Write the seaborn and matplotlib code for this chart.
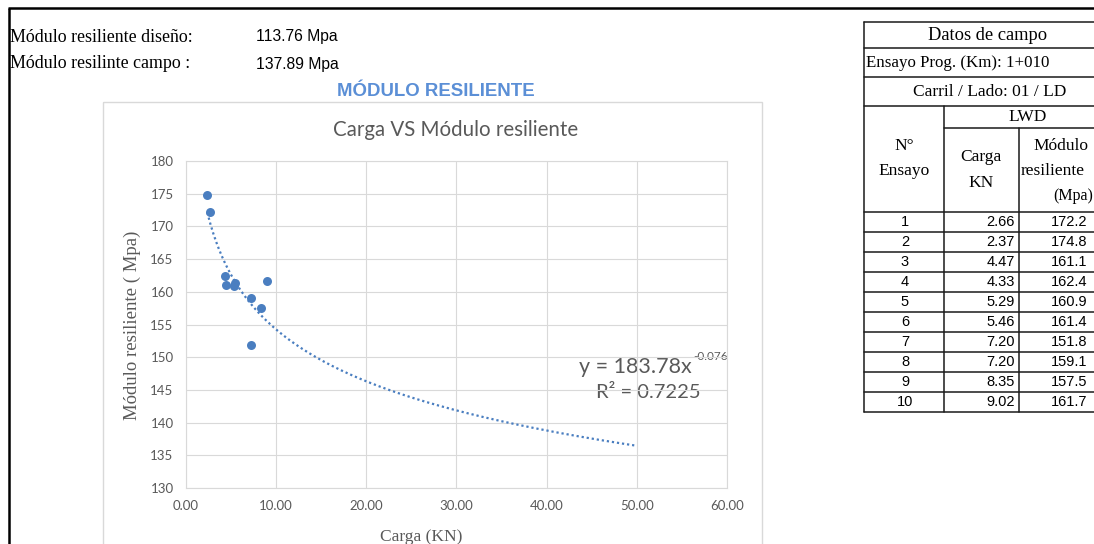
import numpy as np
import pandas as pd
import seaborn as sns
import matplotlib
matplotlib.use("Agg")
import matplotlib.pyplot as plt
from matplotlib.patches import Rectangle

# ---------------- data ----------------
ensayo = [1, 2, 3, 4, 5, 6, 7, 8, 9, 10]
carga = [2.66, 2.37, 4.47, 4.33, 5.29, 5.46, 7.20, 7.20, 8.35, 9.02]
modulo = [172.2, 174.8, 161.1, 162.4, 160.9, 161.4, 151.8, 159.1, 157.5, 161.7]
x_ticks = [0, 10, 20, 30, 40, 50, 60]
y_ticks = [130, 135, 140, 145, 150, 155, 160, 165, 170, 175, 180]
modulo_diseno = "113.76 Mpa"
modulo_campo = "137.89 Mpa"
trend_end = 50
eq_main = "y = 183.78x"
eq_exp = "-0.076"
r2_text = "R² = 0.7225"

sns.set_theme(style="white")
plt.rcParams["font.family"] = ["Lato", "DejaVu Sans"]

W, H = 1094, 544
fig = plt.figure(figsize=(W / 100, H / 100), dpi=100)
fig.patch.set_facecolor("white")

ov = fig.add_axes([0, 0, 1, 1])
ov.set_xlim(0, W)
ov.set_ylim(H, 0)
ov.axis("off")

SERIF = "Liberation Serif"
SANS = "Liberation Sans"
GREY = "#595959"
BLUE = "#4A7EC0"

# outer frame
ov.plot([9, 9], [8, H + 5], color="black", lw=1.8, solid_capstyle="butt")
ov.plot([8, W + 5], [8, 8], color="black", lw=1.8, solid_capstyle="butt")

# header info
ov.text(10, 37, "Módulo resiliente diseño:", family=SERIF, fontsize=12.9, va="center", color="black")
ov.text(10, 64, "Módulo resilinte campo :", family=SERIF, fontsize=12.9, va="center", color="black")
ov.text(256, 37, modulo_diseno, family=SANS, fontsize=11.3, va="center", color="black")
ov.text(256, 64, modulo_campo, family=SANS, fontsize=11.3, va="center", color="black")
ov.text(436, 91, "MÓDULO RESILIENTE", family=SANS, fontsize=13.4, fontweight="bold",
        ha="center", va="center", color="#5B8FD6")

# chart area border
ov.add_patch(Rectangle((103, 102), 659, 470, fill=False, edgecolor="#D9D9D9", lw=1))

ov.text(456, 130, "Carga VS Módulo resiliente", fontsize=14.8, ha="center", va="center", color=GREY)
ov.text(132, 325, "Módulo resiliente ( Mpa)", family=SERIF, fontsize=13.5, rotation=90,
        ha="center", va="center", color=GREY)
ov.text(421, 529, "Carga (KN)", family=SERIF, fontsize=12.5, ha="center", va="top", color=GREY)
ov.text(692, 367, eq_main, fontsize=15.5, ha="right", va="center", color=GREY)
ov.text(693, 357, eq_exp, fontsize=8.5, ha="left", va="center", color=GREY)
ov.text(648, 393, r2_text, fontsize=14.5, ha="center", va="center", color=GREY)

# ---------------- chart ----------------
ax = fig.add_axes([186 / W, 1 - 488 / H, 541 / W, 327 / H])
ax.set_facecolor("none")

# power trend line fitted from data
b, loga = np.polyfit(np.log(carga), np.log(modulo), 1)
xs = np.linspace(min(carga), trend_end, 300)
ys = np.exp(loga) * xs ** b
sns.lineplot(x=xs, y=ys, ax=ax, color=BLUE, lw=1.6, linestyle=(0, (1, 1.3)), zorder=2)

df = pd.DataFrame({"Carga": carga, "Modulo": modulo})
sns.scatterplot(data=df, x="Carga", y="Modulo", ax=ax, color=BLUE, s=42, linewidth=0, zorder=3)

ax.set_xlim(0, 60)
ax.set_ylim(130, 180)
ax.set_xticks(x_ticks)
ax.set_xticklabels([f"{v:.2f}" for v in x_ticks])
ax.set_yticks(y_ticks)
ax.set_yticklabels([str(v) for v in y_ticks])
ax.tick_params(axis="both", length=0, labelsize=9.5, labelcolor=GREY)
ax.tick_params(axis="y", pad=9)
ax.tick_params(axis="x", pad=9)
ax.grid(True, color="#D9D9D9", lw=0.8)
for s in ax.spines.values():
    s.set_visible(True)
    s.set_color("#D9D9D9")
    s.set_linewidth(0.8)
ax.set_xlabel("")
ax.set_ylabel("")

# ---------------- table ----------------
LW = 1.1
TC = "#1a1a1a"
xl, xc1, xc2, xr = 864, 944, 1019, 1110
ov.plot([xl, xl], [22, 412], color=TC, lw=LW)
for y in [22, 48, 77, 106, 212]:
    ov.plot([xl, xr], [y, y], color=TC, lw=LW)
ov.plot([xc1, xr], [128, 128], color=TC, lw=LW)
row_h = 20
for i in range(1, len(ensayo) + 1):
    y = 212 + row_h * i
    ov.plot([xl, xr], [y, y], color=TC, lw=LW)
ov.plot([xc1, xc1], [106, 412], color=TC, lw=LW)
ov.plot([xc2, xc2], [128, 412], color=TC, lw=LW)

fs_t = 12.5
ov.text(988, 35, "Datos de campo", family=SERIF, fontsize=13.3, ha="center", va="center", color="black")
ov.text(866, 63, "Ensayo Prog. (Km): 1+010", family=SERIF, fontsize=12.2, ha="left", va="center", color="black")
ov.text(990, 92, "Carril / Lado: 01 / LD", family=SERIF, fontsize=fs_t, ha="center", va="center", color="black")
ov.text(1028, 117, "LWD", family=SERIF, fontsize=fs_t, ha="center", va="center", color="black")
ov.text(904, 146, "N°", family=SERIF, fontsize=fs_t, ha="center", va="center", color="black")
ov.text(904, 171, "Ensayo", family=SERIF, fontsize=fs_t, ha="center", va="center", color="black")
ov.text(981, 157, "Carga", family=SERIF, fontsize=fs_t, ha="center", va="center", color="black")
ov.text(981, 183, "KN", family=SERIF, fontsize=fs_t, ha="center", va="center", color="black")
ov.text(1033, 146, "Módulo", family=SERIF, fontsize=fs_t, ha="left", va="center", color="black")
ov.text(1021, 171, "resiliente", family=SERIF, fontsize=fs_t, ha="left", va="center", color="black")
ov.text(1053, 196, "(Mpa)", family=SERIF, fontsize=11.5, ha="left", va="center", color="black")

for i, (n, c, m) in enumerate(zip(ensayo, carga, modulo)):
    yc = 212 + row_h * i + row_h / 2 + 0.5
    ov.text(905, yc, str(n), family=SANS, fontsize=10.5, ha="center", va="center", color="black")
    ov.text(1015, yc, f"{c:.2f}", family=SANS, fontsize=10.5, ha="right", va="center", color="black")
    ov.text(1087, yc, f"{m:.1f}", family=SANS, fontsize=10.5, ha="right", va="center", color="black")

fig.savefig("out.png", dpi=100, facecolor="white")
